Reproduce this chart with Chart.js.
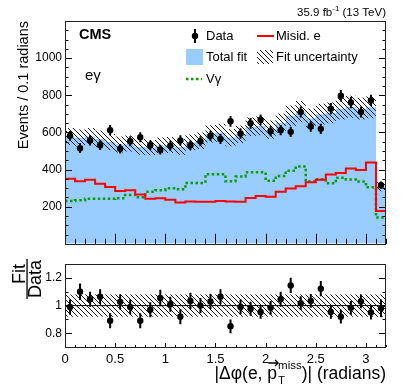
<!DOCTYPE html>
<html>
<head>
<meta charset="utf-8">
<script src="https://cdn.jsdelivr.net/npm/chart.js@4.4.0/dist/chart.umd.min.js"></script>
<style>
  html, body { margin: 0; padding: 0; background: #fff; }
  #wrap { position: relative; width: 407px; height: 391px; }
  canvas { position: absolute; left: 0; }
  #top { top: 0; }
  #bot { top: 254px; }
</style>
</head>
<body>
<div id="wrap">
  <canvas id="top" width="407" height="254" style="width:407px;height:254px"></canvas>
  <canvas id="bot" width="407" height="137" style="width:407px;height:137px"></canvas>
</div>
<script>
// bins of 0.1 rad, last one runs to the frame edge
const binLow = [0.0, 0.1, 0.2, 0.3, 0.4, 0.5, 0.6, 0.7, 0.8, 0.9, 1.0, 1.1, 1.2, 1.3, 1.4, 1.5,
  1.6, 1.7, 1.8, 1.9, 2.0, 2.1, 2.2, 2.3, 2.4, 2.5, 2.6, 2.7, 2.8, 2.9, 3.0, 3.1];
const binCenters = [0.05, 0.15, 0.25, 0.35, 0.45, 0.55, 0.65, 0.75, 0.85, 0.95, 1.05, 1.15, 1.25, 1.35, 1.45, 1.55,
  1.65, 1.75, 1.85, 1.95, 2.05, 2.15, 2.25, 2.35, 2.45, 2.55, 2.65, 2.75, 2.85, 2.95, 3.05, 3.15];
const xMax = 3.2;

const dataEvents = [582, 515, 557, 531, 612, 512, 552, 574, 531, 507, 529, 557, 531, 552, 582, 565,
  660, 594, 649, 668, 607, 612, 603, 710, 632, 619, 728, 797, 761, 710, 772, 316];
const dataErr = [27, 26, 27, 26, 28, 26, 27, 27, 26, 26, 26, 27, 26, 27, 27, 27,
  29, 28, 29, 29, 28, 28, 28, 30, 28, 28, 30, 31, 31, 30, 31, 20];

const totalFit = [578, 570, 578, 565, 548, 535, 540, 522, 518, 530, 532, 522, 545, 555, 592, 598,
  572, 590, 630, 635, 615, 650, 690, 712, 675, 698, 705, 728, 738, 728, 735, 308];
const fitUnc = [46, 46, 46, 45, 44, 43, 43, 42, 41, 42, 43, 42, 44, 44, 47, 48,
  46, 47, 50, 51, 49, 52, 55, 57, 54, 56, 56, 58, 59, 58, 59, 25];
const misidE = [350, 337, 345, 323, 306, 285, 289, 265, 242, 246, 237, 223, 228, 227, 227, 230,
  228, 227, 247, 258, 254, 280, 298, 310, 332, 345, 373, 382, 405, 397, 438, 176];
const vGamma = [230, 234, 242, 242, 242, 246, 263, 251, 280, 289, 299, 294, 328, 328, 375, 375,
  337, 362, 385, 385, 340, 365, 394, 417, 336, 348, 326, 356, 346, 335, 304, 141];

const ratio = [0.99, 1.10, 1.046, 1.064, 0.89, 1.027, 0.99, 0.89, 0.97, 1.055, 1.01, 0.92, 1.034, 1.0, 1.03, 1.064,
  0.85, 0.99, 0.977, 0.954, 0.984, 1.046, 1.146, 1.018, 1.034, 1.123, 0.954, 0.92, 0.984, 1.03, 0.95, 0.98];
const ratioErr = [0.055, 0.06, 0.055, 0.055, 0.055, 0.055, 0.055, 0.055, 0.055, 0.06, 0.055, 0.055, 0.06, 0.055, 0.055, 0.055,
  0.05, 0.055, 0.05, 0.05, 0.05, 0.055, 0.055, 0.05, 0.05, 0.055, 0.05, 0.05, 0.05, 0.05, 0.05, 0.065];
const ratioBand = [0.92, 1.08];

const yTicksTop = [200, 400, 600, 800, 1000];
const yTicksRatio = [0.8, 1, 1.2];
const xTickLabels = [0, 0.5, 1, 1.5, 2, 2.5, 3];

const FONT = '"Liberation Sans", Arial, Helvetica, sans-serif';
const BLUE = 'rgb(153,204,255)';
const RED = '#ff0000';
const GREEN = '#0c990c';

function hatch(ctx) {
  const c = document.createElement('canvas');
  c.width = 5; c.height = 5;
  const g = c.getContext('2d');
  g.fillStyle = '#1a1a1a';
  for (let i = 0; i < 5; i++) g.fillRect(i, i, 1, 1);
  return ctx.createPattern(c, 'repeat');
}

// histogram as step line: low edges + closing point at the frame edge
function steps(vals) {
  const pts = vals.map((v, i) => ({ x: binLow[i], y: v }));
  pts.push({ x: xMax, y: vals[vals.length - 1] });
  return pts;
}

function drawFrame(chart, t) {
  const { ctx, chartArea: a, scales: { x, y } } = chart;
  ctx.save();
  ctx.strokeStyle = '#000';
  ctx.lineWidth = 1;
  ctx.beginPath();
  for (let i = 0; i <= 32; i++) {
    const px = Math.round(x.getPixelForValue(i / 10)) + 0.5;
    const len = i % 5 === 0 ? t.xMajor : t.xMinor;
    ctx.moveTo(px, a.bottom);
    ctx.lineTo(px, a.bottom - len);
  }
  t.yMarks.forEach(m => {
    const py = Math.round(y.getPixelForValue(m.v)) + 0.5;
    const len = m.major ? t.yMajor : t.yMinor;
    ctx.moveTo(a.left, py); ctx.lineTo(a.left + len, py);
    ctx.moveTo(a.right, py); ctx.lineTo(a.right - len, py);
  });
  ctx.stroke();
  ctx.strokeStyle = '#222';
  ctx.strokeRect(Math.round(a.left) + 0.5, Math.round(a.top) + 0.5,
    Math.round(a.right - a.left) - 1, Math.round(a.bottom - a.top));
  ctx.restore();
}

function drawErrors(chart, xs, ys, errs) {
  const { ctx, scales: { x, y } } = chart;
  ctx.save();
  ctx.strokeStyle = '#000';
  ctx.lineWidth = 2;
  ctx.beginPath();
  xs.forEach((xv, i) => {
    const px = x.getPixelForValue(xv);
    ctx.moveTo(px, y.getPixelForValue(ys[i] - errs[i]));
    ctx.lineTo(px, y.getPixelForValue(ys[i] + errs[i]));
  });
  ctx.stroke();
  ctx.restore();
}

function text(ctx, s, x, y, size, opts = {}) {
  ctx.font = (opts.bold ? 'bold ' : '') + size + 'px ' + FONT;
  ctx.fillStyle = opts.color || '#000';
  ctx.textAlign = opts.align || 'left';
  ctx.textBaseline = opts.base || 'middle';
  ctx.fillText(s, x, y);
  return ctx.measureText(s).width;
}

const topMarks = [];
for (let i = 0; i <= 24; i++) topMarks.push({ v: i * 50, major: i % 4 === 0 });
const ratioMarks = [];
for (let i = 0; i <= 6; i++) ratioMarks.push({ v: 0.7 + i * 0.1, major: i % 2 === 1 });

const topCtx = document.getElementById('top').getContext('2d');
const pat = hatch(topCtx);

const topPlugin = {
  id: 'topDecor',
  afterDatasetsDraw(chart) {
    drawErrors(chart, binCenters, dataEvents, dataErr);
  },
  afterDraw(chart) {
    const ctx = chart.ctx;
    drawFrame(chart, { xMajor: 10, xMinor: 5, yMajor: 7, yMinor: 3.5, yMarks: topMarks });
    ctx.save();
    // luminosity label
    ctx.font = '11.5px ' + FONT;
    const tail = ' (13 TeV)';
    const wTail = ctx.measureText(tail).width;
    const wHead = ctx.measureText('35.9 fb').width;
    ctx.font = '8px ' + FONT;
    const wSup = ctx.measureText('-1').width;
    let x0 = 386 - wTail - wSup - wHead;
    x0 += text(ctx, '35.9 fb', x0, 16, 11.5, { base: 'alphabetic' });
    x0 += text(ctx, '-1', x0, 11, 8, { base: 'alphabetic' });
    text(ctx, tail, x0, 16, 11.5, { base: 'alphabetic' });

    text(ctx, 'CMS', 79, 35, 14.5, { bold: true });
    text(ctx, 'e\u03b3', 85, 76, 15);

    // legend
    ctx.fillStyle = '#000';
    ctx.beginPath(); ctx.arc(195, 36, 3.2, 0, Math.PI * 2); ctx.fill();
    ctx.fillRect(194, 29, 2, 14);
    text(ctx, 'Data', 206, 36, 13);
    ctx.strokeStyle = RED; ctx.lineWidth = 2;
    ctx.beginPath(); ctx.moveTo(257, 36); ctx.lineTo(274, 36); ctx.stroke();
    text(ctx, 'Misid. e', 276, 36, 13);
    ctx.fillStyle = BLUE; ctx.fillRect(186, 49, 17, 16);
    text(ctx, 'Total fit', 206, 57, 13);
    ctx.fillStyle = pat; ctx.fillRect(257, 50, 16, 14);
    text(ctx, 'Fit uncertainty', 276, 57, 13);
    ctx.strokeStyle = GREEN; ctx.lineWidth = 2.5; ctx.setLineDash([2.5, 2.5]);
    ctx.beginPath(); ctx.moveTo(186, 79); ctx.lineTo(202, 79); ctx.stroke();
    ctx.setLineDash([]);
    text(ctx, 'V\u03b3', 206, 79, 13);

    // y title
    ctx.translate(24, 21);
    ctx.rotate(-Math.PI / 2);
    text(ctx, 'Events / 0.1 radians', 0, 0, 14.5, { align: 'right' });
    ctx.restore();
  }
};

const fitLo = totalFit.map((v, i) => v - fitUnc[i]);
const fitHi = totalFit.map((v, i) => v + fitUnc[i]);

new Chart(topCtx, {
  type: 'line',
  data: {
    datasets: [
      { label: 'Total fit', data: steps(totalFit), stepped: true, fill: 'origin',
        backgroundColor: BLUE, borderWidth: 0, pointRadius: 0, order: 6 },
      { label: 'Fit uncertainty', data: steps(fitHi), stepped: true, fill: '+1',
        backgroundColor: pat, borderWidth: 0, pointRadius: 0, order: 5 },
      { label: 'fitLo', data: steps(fitLo), stepped: true, fill: false,
        borderWidth: 0, pointRadius: 0, order: 5 },
      { label: 'V\u03b3', data: steps(vGamma), stepped: true, fill: false,
        borderColor: GREEN, borderWidth: 2.5, borderDash: [2.5, 2.5], pointRadius: 0, order: 4 },
      { label: 'Misid. e', data: steps(misidE), stepped: true, fill: false,
        borderColor: RED, borderWidth: 2, pointRadius: 0, order: 3 },
      { label: 'Data', data: binCenters.map((x, i) => ({ x, y: dataEvents[i] })), showLine: false,
        pointRadius: 3.2, pointBackgroundColor: '#000', pointBorderWidth: 0, borderColor: '#000', order: 1 }
    ]
  },
  options: {
    responsive: false,
    animation: false,
    events: [],
    layout: { padding: { left: 0, right: 21, top: 21, bottom: 3 } },
    plugins: { legend: { display: false }, tooltip: { enabled: false } },
    scales: {
      x: { type: 'linear', min: 0, max: xMax,
        ticks: { display: false }, grid: { display: false, drawTicks: false }, border: { display: false },
        afterFit: s => { s.height = 0; } },
      y: { type: 'linear', min: 0, max: 1200,
        afterBuildTicks: s => { s.ticks = yTicksTop.map(v => ({ value: v })); },
        ticks: { color: '#000', font: { family: FONT, size: 12 }, padding: 3, callback: v => String(v) },
        grid: { display: false, drawTicks: false }, border: { display: false },
        afterFit: s => { s.width = 65; } }
    }
  },
  plugins: [topPlugin]
});

const botCtx = document.getElementById('bot').getContext('2d');
const pat2 = hatch(botCtx);

const botPlugin = {
  id: 'botDecor',
  afterDatasetsDraw(chart) {
    drawErrors(chart, binCenters, ratio, ratioErr);
  },
  afterDraw(chart) {
    const ctx = chart.ctx;
    drawFrame(chart, { xMajor: 4, xMinor: 2, yMajor: 7, yMinor: 3.5, yMarks: ratioMarks });
    ctx.save();
    // x title, right aligned to frame
    const base = 125, big = 17.5, small = 11.5;
    ctx.font = big + 'px ' + FONT;
    const wA = ctx.measureText('|\u0394\u03c6(e, ').width;
    const wP = ctx.measureText('p').width;
    const wC = ctx.measureText(')| (radians)').width;
    ctx.font = small + 'px ' + FONT;
    const wMiss = ctx.measureText('miss').width;
    let x0 = 386 - wA - wP - wMiss - 1 - wC;
    x0 += text(ctx, '|\u0394\u03c6(e, ', x0, base, big, { base: 'alphabetic' });
    text(ctx, 'p', x0, base, big, { base: 'alphabetic' });
    // vector arrow above p
    ctx.strokeStyle = '#000'; ctx.lineWidth = 1.3;
    ctx.beginPath();
    ctx.moveTo(x0 + 1, base - 16); ctx.lineTo(x0 + wP + 1, base - 16);
    ctx.moveTo(x0 + wP - 2, base - 19); ctx.lineTo(x0 + wP + 1, base - 16); ctx.lineTo(x0 + wP - 2, base - 13);
    ctx.stroke();
    x0 += wP + 1;
    text(ctx, 'miss', x0, base - 10, small, { base: 'alphabetic' });
    text(ctx, 'T', x0, base + 5, small, { base: 'alphabetic' });
    x0 += wMiss;
    text(ctx, ')| (radians)', x0, base, big, { base: 'alphabetic' });

    // Fit / Data fraction, rotated
    ctx.translate(27, 25);
    ctx.rotate(-Math.PI / 2);
    const fs = 18;
    ctx.font = fs + 'px ' + FONT;
    const wd = ctx.measureText('Data').width;
    text(ctx, 'Fit', 5, -2.5, fs, { align: 'center', base: 'alphabetic' });
    ctx.fillStyle = '#000';
    ctx.fillRect(-wd / 2 - 1, -0.6, wd + 2, 1.3);
    text(ctx, 'Data', 0, 14, fs, { align: 'center', base: 'alphabetic' });
    ctx.restore();
  }
};

new Chart(botCtx, {
  type: 'line',
  data: {
    datasets: [
      { label: 'bandHi', data: [{ x: 0, y: ratioBand[1] }, { x: xMax, y: ratioBand[1] }], fill: '+1',
        backgroundColor: pat2, borderWidth: 0, pointRadius: 0, order: 5 },
      { label: 'bandLo', data: [{ x: 0, y: ratioBand[0] }, { x: xMax, y: ratioBand[0] }], fill: false,
        borderWidth: 0, pointRadius: 0, order: 5 },
      { label: 'one', data: [{ x: 0, y: 1 }, { x: xMax, y: 1 }], fill: false,
        borderColor: '#000', borderWidth: 1, pointRadius: 0, order: 3 },
      { label: 'Fit/Data', data: binCenters.map((x, i) => ({ x, y: ratio[i] })), showLine: false,
        pointRadius: 3.2, pointBackgroundColor: '#000', pointBorderWidth: 0, borderColor: '#000', order: 1 }
    ]
  },
  options: {
    responsive: false,
    animation: false,
    events: [],
    layout: { padding: { left: 0, right: 21, top: 8, bottom: 0 } },
    plugins: { legend: { display: false }, tooltip: { enabled: false } },
    scales: {
      x: { type: 'linear', min: 0, max: xMax,
        afterBuildTicks: s => { s.ticks = xTickLabels.map(v => ({ value: v })); },
        ticks: { color: '#000', font: { family: FONT, size: 13 }, padding: 5, maxRotation: 0, autoSkip: false,
          callback: v => String(v) },
        grid: { display: false, drawTicks: false }, border: { display: false },
        afterFit: s => { s.height = 44; } },
      y: { type: 'linear', min: 0.7, max: 1.3,
        afterBuildTicks: s => { s.ticks = yTicksRatio.map(v => ({ value: v })); },
        ticks: { color: '#000', font: { family: FONT, size: 12 }, padding: 3, callback: v => String(v) },
        grid: { display: false, drawTicks: false }, border: { display: false },
        afterFit: s => { s.width = 65; } }
    }
  },
  plugins: [botPlugin]
});
</script>
</body>
</html>
